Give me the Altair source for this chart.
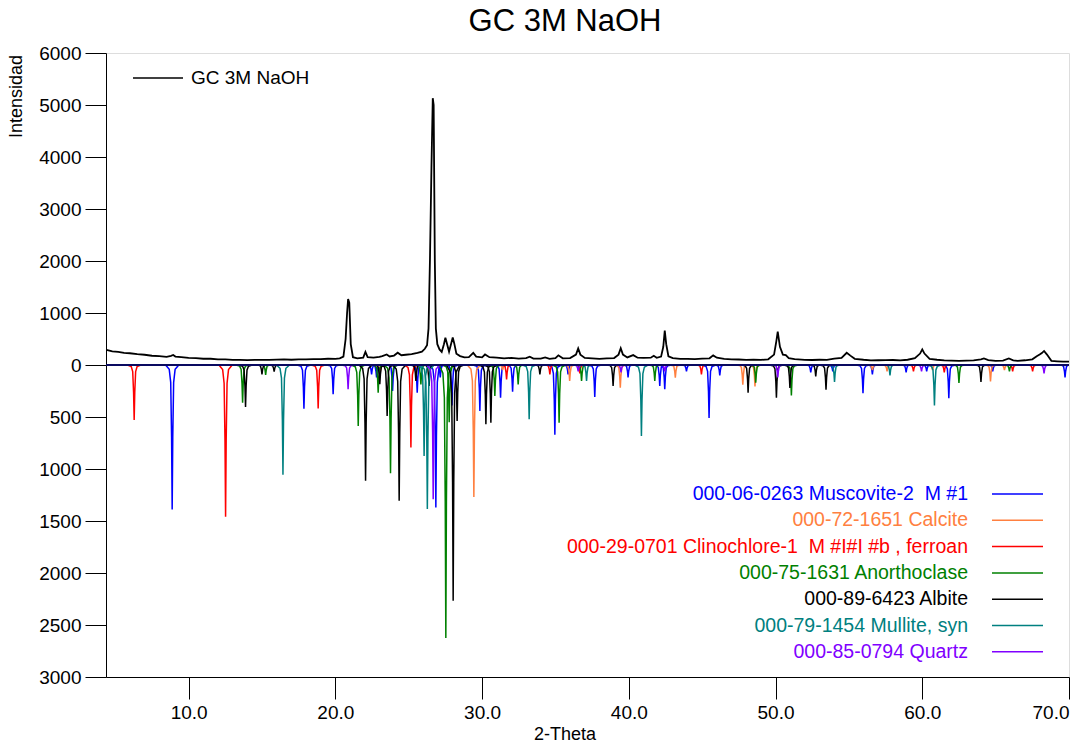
import altair as alt
import pandas as pd

# ---------------- data ----------------
obs_x = [4.4, 4.8, 5.2, 5.6, 6.0, 6.5, 7.0, 7.5, 8.0, 8.5, 8.8, 8.95, 9.1, 9.5, 10.0, 10.5, 11.0, 11.5, 12.0,
         12.5, 13.0, 13.5, 14.0, 14.5, 15.0, 15.5, 16.0, 16.5, 17.0, 17.5, 18.0, 18.5, 19.0, 19.5, 20.0, 20.3,
         20.55, 20.7, 20.8, 20.87, 20.95, 21.05, 21.2, 21.5, 21.9, 22.05, 22.2, 22.6, 23.0, 23.2, 23.5, 23.7,
         24.0, 24.25, 24.5, 24.8, 25.2, 25.6, 25.9, 26.1, 26.25, 26.35, 26.45, 26.55, 26.64, 26.7, 26.78,
         26.85, 26.95, 27.1, 27.25, 27.4, 27.5, 27.6, 27.75, 27.9, 28.0, 28.1, 28.25, 28.5, 28.8, 29.1, 29.4,
         29.6, 30.0, 30.2, 30.5, 31.0, 31.5, 32.0, 32.5, 33.0, 33.25, 33.5, 34.0, 34.3, 34.6, 35.0, 35.2, 35.5,
         36.0, 36.4, 36.55, 36.7, 37.0, 37.5, 38.0, 38.5, 39.0, 39.3, 39.45, 39.6, 39.9, 40.3, 40.6, 41.0, 41.5,
         41.7, 41.9, 42.2, 42.35, 42.45, 42.55, 42.7, 43.0, 43.5, 44.0, 44.5, 45.0, 45.5, 45.75, 46.0, 46.5,
         47.0, 47.5, 48.0, 48.5, 49.0, 49.5, 49.9, 50.05, 50.15, 50.3, 50.5, 50.7, 50.9, 51.3, 52.0, 52.5, 53.0,
         53.5, 54.0, 54.5, 54.85, 55.1, 55.4, 56.0, 56.5, 57.0, 57.5, 58.0, 58.5, 59.0, 59.5, 59.85, 60.0,
         60.15, 60.5, 61.0, 61.5, 62.0, 62.5, 63.0, 63.5, 64.0, 64.2, 64.5, 65.0, 65.5, 65.9, 66.2, 66.5, 67.0,
         67.5, 67.8, 68.0, 68.15, 68.3, 68.5, 68.8, 69.2, 69.6, 70.0]
obs_y = [290, 262, 252, 232, 226, 208, 197, 178, 172, 158, 176, 192, 163, 152, 138, 132, 120, 120, 108,
         110, 98, 100, 93, 98, 99, 100, 104, 110, 101, 108, 110, 113, 114, 120, 118, 127,
         160, 500, 1000, 1270, 1200, 400, 150, 128, 142, 252, 150, 142, 158, 172, 202, 165,
         182, 236, 188, 197, 208, 232, 258, 312, 380, 700, 2050, 3800, 5130, 5000, 2000,
         700, 400, 300, 252, 400, 525, 420, 258, 420, 530, 420, 218, 172, 148, 152, 232,
         160, 148, 202, 150, 142, 128, 137, 123, 132, 160, 124, 122, 146, 118, 132, 186, 128,
         132, 200, 320, 200, 135, 127, 118, 126, 134, 200, 322, 200, 146, 190, 140, 136, 141,
         176, 139, 162, 350, 660, 400, 168, 131, 118, 116, 113, 121, 129, 185, 140, 116,
         110, 106, 99, 101, 98, 110, 200, 450, 640, 350, 200, 190, 130, 111, 98, 96, 101,
         99, 121, 139, 235, 180, 119, 101, 90, 91, 94, 96, 88, 101, 130, 220, 300,
         220, 118, 101, 89, 86, 79, 86, 90, 110, 125, 95, 81, 86, 125, 90, 79, 91,
         110, 170, 200, 230, 270, 200, 80, 71, 64, 66]

NB = "\u00a0"
phase_names = ["000-06-0263 Muscovite-2" + NB + NB + "M #1",
               "000-72-1651 Calcite",
               "000-29-0701 Clinochlore-1" + NB + NB + "M #I#I #b , ferroan",
               "000-75-1631 Anorthoclase",
               "000-89-6423 Albite",
               "000-79-1454 Mullite, syn",
               "000-85-0794 Quartz"]
phase_colors = ["#0000FF", "#FF8040", "#FF0000", "#008000", "#000000", "#008080", "#8000FF"]

# peak positions (2-theta) and intensities (counts) for each reference card
mus_x = [8.88, 17.86, 19.85, 22.47, 22.81, 23.9, 25.58, 26.85, 27.15, 27.95, 29.85, 31.26, 32.08, 34.96,
         35.86, 37.68, 39.95, 42.11, 42.45, 43.93, 45.47, 46.2, 52.4, 53.9, 55.96, 56.6, 58.9, 60.3, 61.81,
         64.8, 69.73]
mus_i = [1390, 420, 280, 90, 120, 250, 266, 1370, 120, 390, 442, 314, 256, 670,
         90, 307, 120, 202, 234, 60, 510, 100, 70, 60, 271, 90, 70, 60, 319,
         60, 120]
cal_x = [23.05, 29.44, 31.4, 35.97, 39.42, 43.17, 47.77, 48.6, 56.6, 57.6, 60.7, 64.65, 65.6]
cal_i = [80, 1270, 50, 154, 218, 122, 190, 206, 50, 60, 50, 158, 50]
cli_x = [6.29, 12.52, 18.83, 25.15, 31.67, 34.62, 36.66, 44.95, 59.4, 61.5, 66.16, 67.52]
cli_i = [528, 1460, 419, 794, 140, 90, 80, 90, 60, 70, 60, 60]
ano_x = [13.68, 15.25, 21.56, 22.92, 23.76, 25.83, 27.53, 27.76, 30.87, 32.46, 35.25, 36.78, 41.77,
         48.65, 51.08, 62.5, 65.94]
ano_i = [362, 96, 586, 266, 1040, 186, 2624, 550, 298, 186, 554, 154, 154,
         170, 293, 173, 60]
alb_x = [13.88, 15.0, 15.83, 22.06, 23.03, 23.53, 24.35, 25.49, 26.39, 28.03, 28.3, 30.26, 30.6, 33.94,
         38.93, 48.13, 50.06, 50.98, 52.74, 53.44, 64.0]
alb_i = [403, 90, 64, 1114, 185, 490, 1306, 154, 202, 2266, 538, 570, 554, 90,
         202, 266, 314, 221, 110, 238, 163]
mul_x = [16.43, 26.05, 26.27, 33.21, 37.12, 40.86, 54.02, 57.8, 60.83]
mul_i = [1056, 874, 1385, 522, 154, 682, 163, 100, 390]
qtz_x = [20.87, 26.67, 36.55, 39.47, 42.45, 50.15, 59.95, 68.3]
qtz_i = [232, 1290, 60, 70, 60, 120, 60, 80]

peak_x = [mus_x, cal_x, cli_x, ano_x, alb_x, mul_x, qtz_x]
peak_i = [mus_i, cal_i, cli_i, ano_i, alb_i, mul_i, qtz_i]

# ---------------- build tables ----------------
# drawing shape of a single reference peak (offset in 2-theta, fraction of height)
PROF_DX = [-0.45, -0.2, -0.1, -0.04, 0.0, 0.04, 0.1, 0.2, 0.45]
PROF_F = [0.0, 0.03, 0.12, 0.5, 1.0, 0.5, 0.12, 0.03, 0.0]

rows = []
for p, (name, xs, ins) in enumerate(zip(phase_names, peak_x, peak_i)):
    for k, (px, pi) in enumerate(zip(xs, ins)):
        for j, (dx, f) in enumerate(zip(PROF_DX, PROF_F)):
            rows.append({"phase": name, "order": p, "pk": f"{p}-{k}", "j": j,
                         "x": px + dx, "y": -2.0 * pi * f})
ref_df = pd.DataFrame(rows)
obs_df = pd.DataFrame({"x": obs_x, "y": obs_y})

xscale = alt.Scale(domain=[4.37, 70], nice=False, zero=False)
yscale = alt.Scale(domain=[-6000, 6000], nice=False, zero=False)
cscale = alt.Scale(domain=phase_names, range=phase_colors)

FONT = "Liberation Sans"

yaxis = alt.Axis(values=list(range(-6000, 6001, 1000)),
                 labelExpr="datum.value >= 0 ? format(datum.value, 'd') : format(-datum.value/2, 'd')",
                 tickSize=21, labelPadding=4, labelFontSize=19, labelFont=FONT, labelColor="black",
                 tickColor="black", domainColor="black", grid=False, title=None)
xaxis = alt.Axis(values=[10, 20, 30, 40, 50, 60, 70], format=".1f", tickSize=22, labelPadding=4,
                 labelFontSize=19, labelFont=FONT, labelColor="black", tickColor="black",
                 domainColor="black", grid=False, title=None)

refs = alt.Chart(ref_df).mark_line(strokeWidth=1.5, clip=True).encode(
    x=alt.X("x:Q", scale=xscale, axis=xaxis),
    y=alt.Y("y:Q", scale=yscale, axis=yaxis),
    color=alt.Color("phase:N", scale=cscale, legend=None),
    detail="pk:N",
    order="j:Q",
)

zero = alt.Chart(pd.DataFrame({"v": [0]})).mark_rule(color="#0a0a60", strokeWidth=2).encode(y="v:Q")

obs = alt.Chart(obs_df).mark_line(color="black", strokeWidth=1.8, clip=True).encode(
    x="x:Q", y="y:Q"
)

# title and axis titles
title = alt.Chart(pd.DataFrame({"t": ["GC 3M NaOH"]})).mark_text(
    font=FONT, fontSize=31, align="center", baseline="middle", color="black"
).encode(text="t:N", x=alt.value(459), y=alt.value(-31))
xtitle = alt.Chart(pd.DataFrame({"t": ["2-Theta"]})).mark_text(
    font=FONT, fontSize=18, align="center", baseline="middle", color="black"
).encode(text="t:N", x=alt.value(459), y=alt.value(682))
ytitle = alt.Chart(pd.DataFrame({"t": ["Intensidad"]})).mark_text(
    font=FONT, fontSize=18, align="right", baseline="middle", angle=270, color="black"
).encode(text="t:N", x=alt.value(-89), y=alt.value(2))

# observed-pattern legend (top left)
obs_leg_line = alt.Chart(pd.DataFrame({"a": [0]})).mark_rule(color="black", strokeWidth=1.5).encode(
    x=alt.value(27), x2=alt.value(77), y=alt.value(25))
obs_leg_text = alt.Chart(pd.DataFrame({"t": ["GC 3M NaOH"]})).mark_text(
    font=FONT, fontSize=19, align="left", baseline="middle", color="black"
).encode(text="t:N", x=alt.value(85), y=alt.value(25))

# reference-card legend (bottom right)
leg_df = pd.DataFrame({"phase": phase_names, "i": list(range(len(phase_names)))})
leg_base = alt.Chart(leg_df).transform_calculate(ypix="441 + 26.3 * datum.i")
leg_text = leg_base.mark_text(font=FONT, fontSize=19.5, align="right", baseline="middle").encode(
    text="phase:N", x=alt.value(862), y=alt.Y("ypix:Q", scale=None),
    color=alt.Color("phase:N", scale=cscale, legend=None))
leg_line = leg_base.mark_rule(strokeWidth=1.5).encode(
    x=alt.value(886), x2=alt.value(937), y=alt.Y("ypix:Q", scale=None),
    color=alt.Color("phase:N", scale=cscale, legend=None))

chart = alt.layer(
    refs, zero, obs, title, xtitle, ytitle, obs_leg_line, obs_leg_text, leg_text, leg_line
).properties(
    width=963, height=624,
    autosize=alt.AutoSizeParams(type="none"),
    padding={"left": 106, "top": 53, "right": 21, "bottom": 68},
    background="white",
).configure_view(stroke="black", strokeWidth=1.5).configure(font=FONT)

chart.save("out.html", embed_options={"renderer": "svg", "actions": False})
